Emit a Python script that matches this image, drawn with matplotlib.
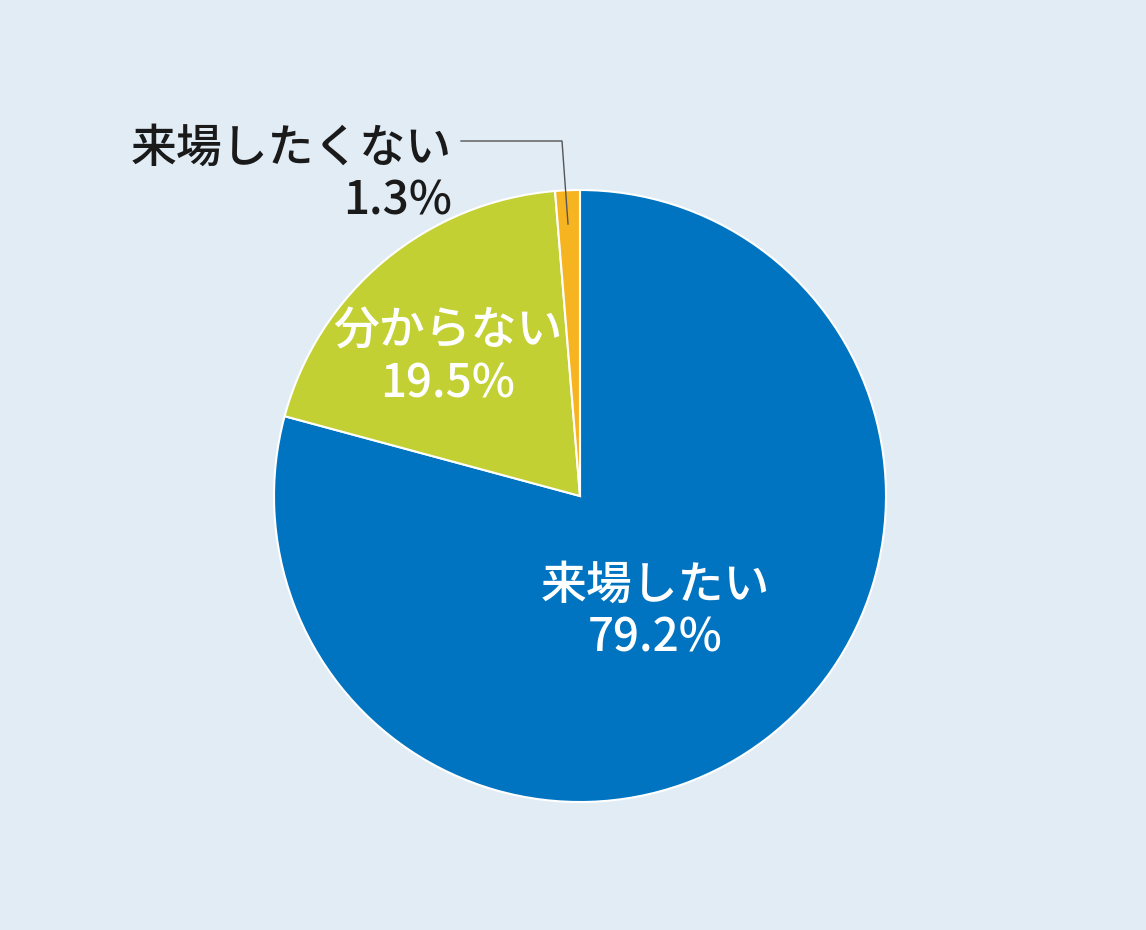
import matplotlib.pyplot as plt

plt.rcParams['font.family'] = ['Noto Sans CJK JP', 'DejaVu Sans']

# データ
labels = ['来場したい', '分からない', '来場したくない']
values = [79.2, 19.5, 1.3]
colors = ['#0074C1', '#C3D034', '#F7B421']

W, H = 1146, 930
bg = '#E1ECF5'

fig = plt.figure(figsize=(W / 100, H / 100), dpi=100, facecolor=bg)
ax = fig.add_axes([0, 0, 1, 1])

cx, cy, r = 580, H - 496, 306
ax.pie(values, colors=colors, startangle=90, counterclock=False,
       center=(cx, cy), radius=r, frame=True,
       wedgeprops=dict(edgecolor='white', linewidth=1.5))
ax.set_xlim(0, W)
ax.set_ylim(0, H)
ax.set_aspect('equal')
ax.axis('off')

fs = 33
fw = 'medium'
# 来場したい
ax.text(655, H - 585, labels[0], color='white', fontsize=fs, ha='center', va='center', fontweight=fw)
ax.text(655, H - 638, f'{values[0]}%', color='white', fontsize=fs, ha='center', va='center', fontweight=fw)
# 分からない
ax.text(448, H - 331, labels[1], color='white', fontsize=fs, ha='center', va='center', fontweight=fw)
ax.text(448, H - 384, f'{values[1]}%', color='white', fontsize=fs, ha='center', va='center', fontweight=fw)
# 来場したくない
ax.text(452, H - 148, labels[2], color='#1A1A1A', fontsize=fs, ha='right', va='center', fontweight=fw)
ax.text(452, H - 201, f'{values[2]}%', color='#1A1A1A', fontsize=fs, ha='right', va='center', fontweight=fw)

# 引き出し線
ax.plot([461, 562, 568], [H - 141, H - 141, H - 224], color='#555555', linewidth=1)

fig.savefig('out.png', dpi=100, facecolor=bg)
